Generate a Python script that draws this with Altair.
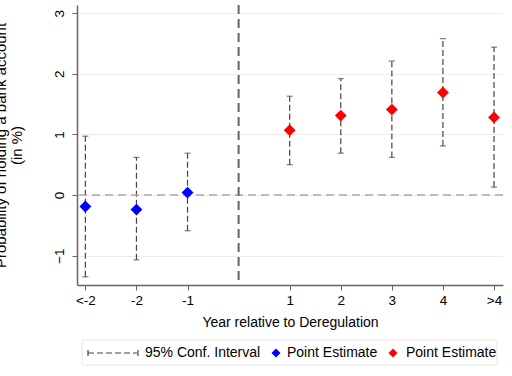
import altair as alt
import pandas as pd

# Data
x_pos = [-3, -2, -1, 1, 2, 3, 4, 5]
x_labels = ["<-2", "-2", "-1", "1", "2", "3", "4", ">4"]
estimate = [-0.19, -0.24, 0.04, 1.07, 1.31, 1.41, 1.69, 1.28]
ci_low = [-1.35, -1.07, -0.59, 0.50, 0.69, 0.62, 0.81, 0.13]
ci_high = [0.97, 0.62, 0.69, 1.63, 1.92, 2.21, 2.58, 2.44]
period = ["pre", "pre", "pre", "post", "post", "post", "post", "post"]
y_ticks = [-1, 0, 1, 2, 3]
legend_labels = ["95% Conf. Interval", "Point Estimate", "Point Estimate"]

df = pd.DataFrame({"x": x_pos, "est": estimate, "lo": ci_low, "hi": ci_high, "period": period})

W, H = 426, 280
FONT = "Liberation Sans"

label_expr = " : ".join(
    f"datum.value == {v} ? '{l}'" for v, l in zip(x_pos, x_labels)
) + " : ''"

xscale = alt.Scale(domain=[-3.164, 5.176], nice=False, zero=False)
yscale = alt.Scale(domain=[-1.485, 3.135], nice=False, zero=False)

xaxis = alt.Axis(values=x_pos, labelExpr=label_expr, grid=False, title="Year relative to Deregulation",
                 labelFont=FONT, titleFont=FONT, labelFontSize=13.5, titleFontSize=14,
                 labelColor="black", titleColor="black", titleFontWeight="normal",
                 domainColor="#666", domainWidth=1.5, tickColor="#666", tickSize=5,
                 labelPadding=3, titlePadding=9, labelFlush=False)
yaxis = alt.Axis(values=y_ticks, format="d", grid=True, gridColor="#ececec", gridWidth=1,
                 title=["Probability of holding a bank account", "(in %)"],
                 labelFont=FONT, titleFont=FONT, labelFontSize=13.5, titleFontSize=15,
                 labelColor="black", titleColor="black", titleFontWeight="normal",
                 domainColor="#666", domainWidth=1.5, tickColor="#666", tickSize=5,
                 labelAngle=270, labelPadding=6, titlePadding=28, titleLineHeight=16)

base = alt.Chart(df)

ci = base.mark_rule(color="#444", strokeWidth=1.2, strokeDash=[6, 3]).encode(
    x=alt.X("x:Q", scale=xscale, axis=xaxis),
    y=alt.Y("lo:Q", scale=yscale, axis=yaxis),
    y2="hi:Q",
)
cap_lo = base.mark_tick(orient="horizontal", size=6, thickness=1.2, color="#444").encode(
    x=alt.X("x:Q", scale=xscale), y=alt.Y("lo:Q", scale=yscale))
cap_hi = base.mark_tick(orient="horizontal", size=6, thickness=1.2, color="#444").encode(
    x=alt.X("x:Q", scale=xscale), y=alt.Y("hi:Q", scale=yscale))

zero_df = pd.DataFrame({"y": [0]})
zero_line = alt.Chart(zero_df).mark_rule(color="#aaa", strokeWidth=1.5, strokeDash=[8, 5]).encode(
    y=alt.Y("y:Q", scale=yscale))
vline_df = pd.DataFrame({"x": [0]})
vline = alt.Chart(vline_df).mark_rule(color="#666", strokeWidth=2, strokeDash=[9, 5]).encode(
    x=alt.X("x:Q", scale=xscale))

points = base.mark_point(shape="diamond", filled=True, size=140, opacity=1).encode(
    x=alt.X("x:Q", scale=xscale),
    y=alt.Y("est:Q", scale=yscale),
    color=alt.Color("period:N", scale=alt.Scale(domain=["pre", "post"], range=["#0000ff", "#ff0000"]), legend=None),
)

# Manual legend
leg_df = pd.DataFrame({"label": legend_labels})
LY = 348
frame = alt.Chart(leg_df.head(1)).mark_rect(fill="white", stroke="#e6e6e6", strokeWidth=1).encode(
    x=alt.value(5), x2=alt.value(420), y=alt.value(335), y2=alt.value(360))
leg_line = alt.Chart(leg_df.head(1)).mark_rule(color="#444", strokeWidth=1.2, strokeDash=[6, 3]).encode(
    x=alt.value(11), x2=alt.value(60), y=alt.value(LY))
leg_cap1 = alt.Chart(leg_df.head(1)).mark_rule(color="#444", strokeWidth=1.2).encode(
    x=alt.value(11), y=alt.value(LY - 3), y2=alt.value(LY + 3))
leg_cap2 = alt.Chart(leg_df.head(1)).mark_rule(color="#444", strokeWidth=1.2).encode(
    x=alt.value(61), y=alt.value(LY - 3), y2=alt.value(LY + 3))
leg_t1 = alt.Chart(leg_df.iloc[[0]]).mark_text(align="left", baseline="middle", font=FONT, fontSize=14, color="black").encode(
    x=alt.value(68), y=alt.value(LY), text="label:N")
leg_d1 = alt.Chart(leg_df.iloc[[1]]).mark_point(shape="diamond", filled=True, size=80, color="#0000ff", opacity=1).encode(
    x=alt.value(199), y=alt.value(LY))
leg_t2 = alt.Chart(leg_df.iloc[[1]]).mark_text(align="left", baseline="middle", font=FONT, fontSize=14, color="black").encode(
    x=alt.value(210), y=alt.value(LY), text="label:N")
leg_d2 = alt.Chart(leg_df.iloc[[2]]).mark_point(shape="diamond", filled=True, size=80, color="#ff0000", opacity=1).encode(
    x=alt.value(316), y=alt.value(LY))
leg_t3 = alt.Chart(leg_df.iloc[[2]]).mark_text(align="left", baseline="middle", font=FONT, fontSize=14, color="black").encode(
    x=alt.value(329), y=alt.value(LY), text="label:N")

chart = alt.layer(
    ci, zero_line, vline, cap_lo, cap_hi, points,
    frame, leg_line, leg_cap1, leg_cap2, leg_t1, leg_d1, leg_t2, leg_d2, leg_t3,
).properties(
    width=W, height=H,
    autosize=alt.AutoSizeParams(type="none"),
    padding={"left": 77, "top": 5, "right": 9, "bottom": 91},
    background="white",
).configure_view(stroke=None)

chart.save("out.html", embed_options={"renderer": "svg", "actions": False})
